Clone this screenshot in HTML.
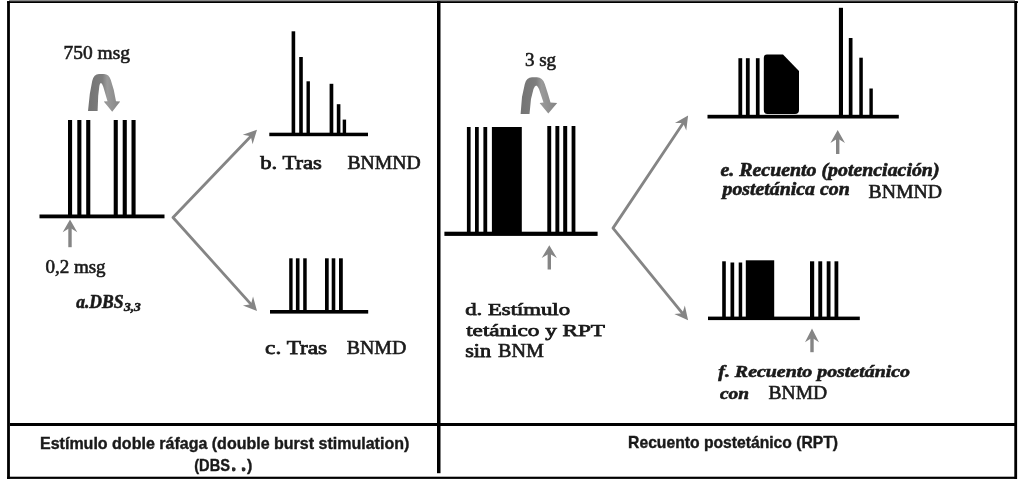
<!DOCTYPE html>
<html>
<head>
<meta charset="utf-8">
<style>
html,body{margin:0;padding:0;background:#fff;width:1024px;height:480px;overflow:hidden;}
svg{display:block;filter:blur(0.4px);}
text{stroke:#1a1a1a;}
.sr{stroke-width:0.6px;}
.sb{stroke-width:0.75px;}
.sbi{stroke-width:0.6px;}
.ss{stroke-width:0.4px;}
.sr{font-family:"Liberation Serif",serif;font-weight:normal;}
.sb{font-family:"Liberation Serif",serif;font-weight:normal;}
.sbi{font-family:"Liberation Serif",serif;font-weight:bold;font-style:italic;}
.ss{font-family:"Liberation Sans",sans-serif;font-weight:bold;}
</style>
</head>
<body>
<svg width="1024" height="480" viewBox="0 0 1024 480">
<defs>
<linearGradient id="ga" gradientUnits="userSpaceOnUse" x1="88" y1="0" x2="120" y2="0"><stop offset="0" stop-color="#737373"/><stop offset="0.45" stop-color="#7e7e7e"/><stop offset="0.6" stop-color="#9a9a9a"/><stop offset="1" stop-color="#858585"/></linearGradient>
<linearGradient id="gb" gradientUnits="userSpaceOnUse" x1="520" y1="0" x2="556" y2="0"><stop offset="0" stop-color="#737373"/><stop offset="0.45" stop-color="#7e7e7e"/><stop offset="0.6" stop-color="#9a9a9a"/><stop offset="1" stop-color="#858585"/></linearGradient>
</defs>
<rect x="0" y="0" width="1024" height="480" fill="#fff"/>
<g fill="#8a8a8a">
<rect x="9" y="0" width="1006" height="1.2"/>
</g>
<g fill="#000">
<rect x="7" y="1.2" width="1011" height="1.8"/>
<rect x="7.1" y="1.2" width="2.8" height="477.8"/>
<rect x="1014.3" y="1.2" width="2.8" height="477.8"/>
<rect x="7" y="476.7" width="1010" height="2.2"/>
<rect x="10" y="423" width="1005" height="3"/>
<rect x="437" y="1.2" width="3.5" height="472"/>
</g>
<g fill="#000">
<rect x="39.5" y="214.5" width="125" height="3.8"/>
<rect x="68" y="120" width="4.1" height="95.5"/>
<rect x="77.3" y="120" width="4.1" height="95.5"/>
<rect x="86.2" y="120" width="4.1" height="95.5"/>
<rect x="113.7" y="120" width="4.1" height="95.5"/>
<rect x="122.7" y="120" width="4.1" height="95.5"/>
<rect x="131.5" y="120" width="4.1" height="95.5"/>
</g>
<path d="M88,111 L89.8,94 L92.2,81 Q93.8,74 99,74 L104,74 Q109,74 110.8,80 L113.8,90 L116,101.2 L120.2,101.5 L112.2,111.8 L103.8,101.5 L107.5,101.2 L103.2,86.5 Q102,83 101,83 Q99.8,83 99.3,86.5 L98.2,96 L97.6,111 Z" fill="url(#ga)"/>
<path d="M70.00,219.60 L77.30,232.30 L70.00,227.80 L62.70,232.30 Z" fill="#858585"/>
<rect x="68.30" y="227.30" width="3.4" height="19.90" fill="#858585"/>
<polyline points="251.12,135.94 173,217.5 251.32,304.68" fill="none" stroke="#858585" stroke-width="2.8" stroke-linejoin="round"/>
<path d="M257.00,129.80 L252.57,144.25 L250.77,136.30 L242.75,134.85 Z" fill="#858585"/>
<path d="M257.00,311.00 L242.92,305.50 L250.99,304.31 L253.04,296.41 Z" fill="#858585"/>
<g fill="#000">
<rect x="269.3" y="132.7" width="98.7" height="3.5"/>
<rect x="291.6" y="31.3" width="3.6" height="102"/>
<rect x="299.2" y="57" width="3.6" height="76"/>
<rect x="306.5" y="81.3" width="3.4" height="52"/>
<rect x="329.6" y="83.8" width="3.7" height="50"/>
<rect x="336.8" y="104.2" width="3.6" height="30"/>
<rect x="342.7" y="119.6" width="3.4" height="14"/>
</g>
<g fill="#000">
<rect x="270" y="310" width="98.2" height="3.6"/>
<rect x="289.2" y="258.3" width="3.4" height="53"/>
<rect x="295.9" y="258.3" width="3.6" height="53"/>
<rect x="303.2" y="258.3" width="3.5" height="53"/>
<rect x="325" y="258.3" width="3.7" height="53"/>
<rect x="331.7" y="258.3" width="3.6" height="53"/>
<rect x="339" y="258.3" width="3.8" height="53"/>
</g>
<g fill="#000">
<rect x="444.4" y="231.7" width="153.2" height="4.2"/>
<rect x="466.9" y="127" width="3.7" height="106"/>
<rect x="475" y="127" width="3.75" height="106"/>
<rect x="483.4" y="127" width="3.8" height="106"/>
<rect x="491.9" y="127" width="29.9" height="106"/>
<rect x="547.3" y="126" width="3.9" height="107"/>
<rect x="555.4" y="126" width="3.9" height="107"/>
<rect x="563.2" y="126" width="4" height="107"/>
<rect x="571.6" y="126" width="3.8" height="107"/>
</g>
<path d="M520.6,114 L522,97 L524.8,84 Q526.5,77.3 532,77.3 L537,77.3 Q542.5,77.3 544.8,84 L548,94 L550.5,102.5 L557.2,103 L548.3,113.5 L539.6,103 L543.5,102.5 L539,89 Q537.5,85.5 536.2,85.5 Q534.8,85.5 533.5,89 L531,99 L529.5,114 Z" fill="url(#gb)"/>
<path d="M549.30,245.20 L556.90,258.00 L549.30,253.50 L541.70,258.00 Z" fill="#858585"/>
<rect x="547.60" y="253.00" width="3.4" height="16.50" fill="#858585"/>
<polyline points="683.38,122.67 613,228.1 682.73,313.61" fill="none" stroke="#858585" stroke-width="2.8" stroke-linejoin="round"/>
<path d="M688.10,115.60 L686.26,130.60 L683.10,123.09 L674.95,123.05 Z" fill="#858585"/>
<path d="M688.10,320.20 L674.30,314.03 L682.41,313.22 L684.84,305.44 Z" fill="#858585"/>
<g fill="#000">
<rect x="707.5" y="114.8" width="191.3" height="3.7"/>
<rect x="738.4" y="58.2" width="3.8" height="58"/>
<rect x="745.9" y="58.2" width="3.8" height="58"/>
<rect x="755.9" y="58.2" width="3.7" height="58"/>
<rect x="838.9" y="7.8" width="4.1" height="108"/>
<rect x="848.8" y="38" width="3.7" height="78"/>
<rect x="859.3" y="57.7" width="3.5" height="58"/>
<rect x="869.4" y="88.5" width="3.4" height="28"/>
<path d="M767,54.6 L783,54.6 L799,71 L799,110 Q799,114 795,114 L767.5,114 Q763.8,114 763.8,110 L763.8,58 Q763.8,54.6 767,54.6 Z"/>
</g>
<path d="M837.70,130.00 L845.00,143.00 L837.70,138.50 L830.40,143.00 Z" fill="#858585"/>
<rect x="836.00" y="138.00" width="3.4" height="16.00" fill="#858585"/>
<g fill="#000">
<rect x="708" y="316.6" width="151.8" height="3.5"/>
<rect x="722.2" y="261.3" width="3.6" height="57"/>
<rect x="730.5" y="262.5" width="3.7" height="56"/>
<rect x="738.7" y="262.5" width="3.5" height="56"/>
<rect x="745.8" y="260.3" width="28.4" height="58"/>
<rect x="810" y="261.3" width="4.2" height="57"/>
<rect x="818.3" y="261.3" width="3.9" height="57"/>
<rect x="826.7" y="261.3" width="3.8" height="57"/>
<rect x="834.5" y="261.3" width="3.8" height="57"/>
</g>
<path d="M812.00,328.40 L819.00,342.30 L812.00,337.80 L805.00,342.30 Z" fill="#858585"/>
<rect x="810.30" y="337.30" width="3.4" height="14.90" fill="#858585"/>
<text id="t750" class="sr" x="63.60" y="59.4" font-size="18.9" textLength="66.46" lengthAdjust="spacingAndGlyphs" fill="#1a1a1a">750 msg</text>
<text id="t02" class="sr" x="45.40" y="273.0" font-size="18.5" textLength="60.18" lengthAdjust="spacingAndGlyphs" fill="#1a1a1a">0,2 msg</text>
<text id="ta" class="sbi" x="76.20" y="307.5" font-size="18.8" textLength="47.37" lengthAdjust="spacingAndGlyphs" fill="#1a1a1a">a.DBS</text>
<text id="ta2" class="sbi" x="124.00" y="311.0" font-size="12.0" textLength="16.81" lengthAdjust="spacingAndGlyphs" fill="#1a1a1a">3,3</text>
<text id="tb" class="sb" x="260.30" y="169.1" font-size="18.5" textLength="61.59" lengthAdjust="spacingAndGlyphs" fill="#1a1a1a">b. Tras</text>
<text id="tbn1" class="sr" x="347.50" y="169.0" font-size="17.9" textLength="73.19" lengthAdjust="spacingAndGlyphs" fill="#1a1a1a">BNMND</text>
<text id="tc" class="sb" x="265.10" y="354.2" font-size="19.5" textLength="62.07" lengthAdjust="spacingAndGlyphs" fill="#1a1a1a">c. Tras</text>
<text id="tbn2" class="sr" x="346.80" y="354.0" font-size="18.8" textLength="59.57" lengthAdjust="spacingAndGlyphs" fill="#1a1a1a">BNMD</text>
<text id="t3sg" class="sr" x="524.90" y="65.9" font-size="18.5" textLength="31.15" lengthAdjust="spacingAndGlyphs" fill="#1a1a1a">3 sg</text>
<text id="td1" class="sb" x="465.20" y="314.7" font-size="16.3" textLength="104.85" lengthAdjust="spacingAndGlyphs" fill="#1a1a1a">d. Estímulo</text>
<text id="td2" class="sb" x="466.20" y="335.5" font-size="17.0" textLength="138.82" lengthAdjust="spacingAndGlyphs" fill="#1a1a1a">tetánico y RPT</text>
<text id="td3a" class="sb" x="465.20" y="357.0" font-size="18.0" textLength="25.93" lengthAdjust="spacingAndGlyphs" fill="#1a1a1a">sin</text>
<text id="td3b" class="sr" x="498.00" y="356.8" font-size="18.3" textLength="45.77" lengthAdjust="spacingAndGlyphs" fill="#1a1a1a">BNM</text>
<text id="te1" class="sbi" x="720.50" y="175.5" font-size="18.0" textLength="219.00" lengthAdjust="spacingAndGlyphs" fill="#1a1a1a">e. Recuento (potenciación)</text>
<text id="te2" class="sbi" x="722.50" y="194.8" font-size="18.0" textLength="127.18" lengthAdjust="spacingAndGlyphs" fill="#1a1a1a">postetánica con</text>
<text id="tbn3" class="sr" x="868.60" y="198.4" font-size="19.0" textLength="73.48" lengthAdjust="spacingAndGlyphs" fill="#1a1a1a">BNMND</text>
<text id="tf1" class="sbi" x="718.30" y="377.2" font-size="17.5" textLength="191.72" lengthAdjust="spacingAndGlyphs" fill="#1a1a1a">f. Recuento postetánico</text>
<text id="tf2" class="sbi" x="720.00" y="398.5" font-size="17.5" textLength="29.04" lengthAdjust="spacingAndGlyphs" fill="#1a1a1a">con</text>
<text id="tbn4" class="sr" x="768.50" y="398.6" font-size="19.0" textLength="58.69" lengthAdjust="spacingAndGlyphs" fill="#1a1a1a">BNMD</text>
<text id="tl1" class="ss" x="40.00" y="448.7" font-size="16.6" textLength="369.32" lengthAdjust="spacingAndGlyphs" fill="#1a1a1a">Estímulo doble ráfaga (double burst stimulation)</text>
<text id="tl2" class="ss" x="194.20" y="470.5" font-size="16.7" textLength="35.78" lengthAdjust="spacingAndGlyphs" fill="#1a1a1a">(DBS</text>
<text id="tl2b" class="ss" x="247.00" y="470.5" font-size="16.7" textLength="5.33" lengthAdjust="spacingAndGlyphs" fill="#1a1a1a">)</text>
<text id="tr1" class="ss" x="628.10" y="448.4" font-size="16.6" textLength="209.93" lengthAdjust="spacingAndGlyphs" fill="#1a1a1a">Recuento postetánico (RPT)</text>
<g fill="#2a2a2a">
<path d="M232,467.5 Q234.5,466.5 235.6,468.5 Q236,471.5 233,471.4 Q231.8,471 232,469.5 Z"/>
<path d="M241.8,467.5 Q244.3,466.5 245.5,468.5 Q245.9,471.5 243,471.4 Q241.6,471 241.8,469.5 Z"/>
</g>
</svg>
</body>
</html>
